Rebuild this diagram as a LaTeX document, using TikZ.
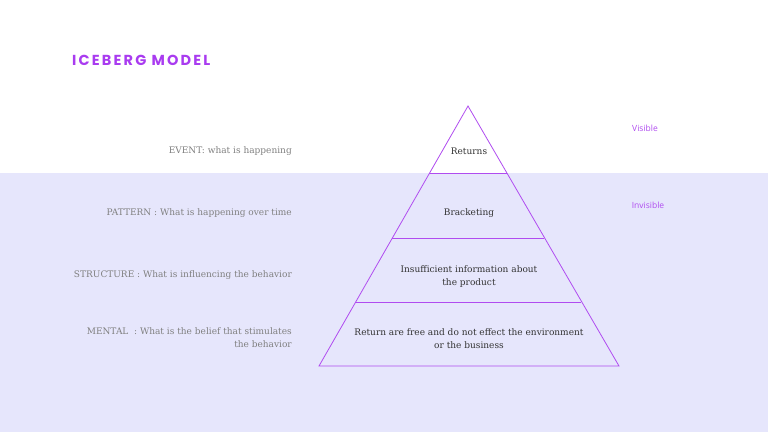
\documentclass[tikz,border=0pt]{standalone}
\usepackage{fontspec}
\setmainfont{DejaVu Serif}
\newfontfamily\titlefont[LetterSpace=15]{Poppins}
\newfontfamily\labelfont{Open Sans}
\definecolor{lav}{HTML}{E6E6FC}
\definecolor{purp}{HTML}{B04CF0}
\definecolor{titlep}{HTML}{A93BF0}
\definecolor{greytxt}{HTML}{808080}
\definecolor{darktxt}{HTML}{333333}
\tikzset{
  lefttext/.style={anchor=east, align=right, text=greytxt, font=\fontsize{9}{13}\selectfont, inner sep=0pt},
  tiertext/.style={align=center, text=darktxt, font=\fontsize{9}{13}\selectfont, inner sep=0pt},
  sidetext/.style={text=purp, font=\labelfont\fontsize{8.5}{10}\selectfont, inner sep=0pt},
  tierline/.style={draw=purp, line width=0.9pt},
}
\begin{document}
\begin{tikzpicture}[x=1pt,y=-1pt]
\useasboundingbox (0,0) rectangle (768,432);
\fill[white] (0,0) rectangle (768,432);
\fill[lav] (0,173) rectangle (768,432);
\node[anchor=west, inner sep=0pt, text=titlep, font=\titlefont\bfseries\fontsize{14.5}{17}\selectfont] (title) at (72,60) {ICEBERG MODEL};
% pyramid
\coordinate (apex) at (468,106);
\coordinate (bl) at (319,366);
\coordinate (br) at (619,366);
\coordinate (l1) at (429.3,173);
\coordinate (r1) at (506.7,173);
\coordinate (l2) at (391.8,238);
\coordinate (r2) at (544.2,238);
\coordinate (l3) at (355.1,302);
\coordinate (r3) at (580.9,302);
\draw[purp, line width=0.8pt, line join=miter] (apex) -- (br) -- (bl) -- cycle;
\draw[tierline] (l1) -- (r1);
\draw[tierline] (l2) -- (r2);
\draw[tierline] (l3) -- (r3);
\node[tiertext] (t1) at (469,151.5) {Returns};
\node[tiertext] (t2) at (469,213.5) {Bracketing};
\node[tiertext] (t3) at (469,276.5) {Insufficient information about\\the product};
\node[tiertext] (t4) at (469,338.5) {Return are free and do not effect the environment\\or the business};
% left labels
\node[lefttext] (e1) at (292,151.5) {EVENT: what is happening};
\node[lefttext] (e2) at (292,213.5) {PATTERN : What is happening over time};
\node[lefttext] (e3) at (292,275.5) {STRUCTURE : What is influencing the behavior};
\node[lefttext] (e4) at (292,338) {MENTAL\ \ : What is the belief that stimulates\\the behavior};
% side labels
\node[sidetext] (vis) at (645,128) {Visible};
\node[sidetext] (invis) at (648,205) {Invisible};
\end{tikzpicture}
\end{document}
